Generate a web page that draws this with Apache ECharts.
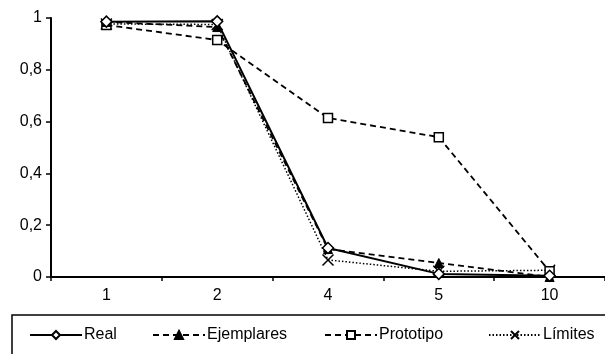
<!DOCTYPE html>
<html>
<head>
<meta charset="utf-8">
<script src="https://cdn.jsdelivr.net/npm/echarts@6/dist/echarts.min.js"></script>
<style>html,body{margin:0;padding:0;background:#fff}#c{width:605px;height:354px}</style>
</head>
<body>
<div id="c"></div>
<script>
const categories = ['1', '2', '4', '5', '10'];
const real = [0.986, 0.987, 0.112, 0.012, 0.005];
const ejemplares = [0.985, 0.965, 0.108, 0.054, 0.0];
const prototipo = [0.973, 0.915, 0.614, 0.54, 0.022];
const limites = [0.977, 0.975, 0.066, 0.022, 0.026];
const yTicks = { min: 0, max: 1, interval: 0.2 };

const FONT = 'Liberation Sans';
const chart = echarts.init(document.getElementById('c'), null, { renderer: 'canvas' });
const xPath = 'path://M0,0L10,10M10,0L0,10';

function legendItem(name, left) {
  return {
    data: [name], left: left, top: 327, padding: 0,
    itemWidth: 52, itemHeight: 10, itemGap: 0,
    textStyle: { fontFamily: FONT, fontSize: 16, color: '#000', padding: [0, 0, 0, -3] },
    selectedMode: false
  };
}

chart.setOption({
  animation: false,
  backgroundColor: '#fff',
  grid: { left: 51, top: 18, right: -8, bottom: 77, containLabel: false },
  xAxis: {
    type: 'category', data: categories, boundaryGap: true,
    axisLine: { lineStyle: { color: '#000', width: 2 } },
    axisTick: { show: true, length: 4, lineStyle: { color: '#000', width: 1.5 } },
    axisLabel: { color: '#000', fontFamily: FONT, fontSize: 16, margin: 11 },
    splitLine: { show: false }
  },
  yAxis: {
    type: 'value', min: yTicks.min, max: yTicks.max, interval: yTicks.interval,
    axisLine: { show: true, lineStyle: { color: '#000', width: 2 } },
    axisTick: { show: true, length: 5, lineStyle: { color: '#000', width: 1.5 } },
    axisLabel: { color: '#000', fontFamily: FONT, fontSize: 16, margin: 9,
      formatter: v => String(Math.round(v * 10) / 10).replace('.', ',') },
    splitLine: { show: false }
  },
  legend: [legendItem('Real', 29), legendItem('Ejemplares', 152), legendItem('Prototipo', 324), legendItem('Límites', 488)],
  graphic: [{
    type: 'rect', shape: { x: 12, y: 315, width: 700, height: 100 },
    style: { fill: 'none', stroke: '#000', lineWidth: 1.5 }, z: 100
  }],
  series: [
    { name: 'Límites', type: 'line', data: limites, symbol: xPath, symbolSize: 11,
      lineStyle: { color: '#000', width: 1.5, type: [1.5, 2] },
      itemStyle: { color: '#000', borderColor: '#000', borderWidth: 1.5 }, z: 2 },
    { name: 'Prototipo', type: 'line', data: prototipo, symbol: 'rect', symbolSize: 9,
      lineStyle: { color: '#000', width: 1.8, type: [6, 4] },
      itemStyle: { color: '#fff', borderColor: '#000', borderWidth: 1.5 }, z: 3 },
    { name: 'Ejemplares', type: 'line', data: ejemplares, symbol: 'triangle', symbolSize: 9,
      lineStyle: { color: '#000', width: 1.8, type: [6, 4] },
      itemStyle: { color: '#000', borderColor: '#000', borderWidth: 1 }, z: 4 },
    { name: 'Real', type: 'line', data: real, symbol: 'diamond', symbolSize: 11,
      lineStyle: { color: '#000', width: 2 },
      itemStyle: { color: '#fff', borderColor: '#000', borderWidth: 1.5 }, z: 5 }
  ]
});
</script>
</body>
</html>
